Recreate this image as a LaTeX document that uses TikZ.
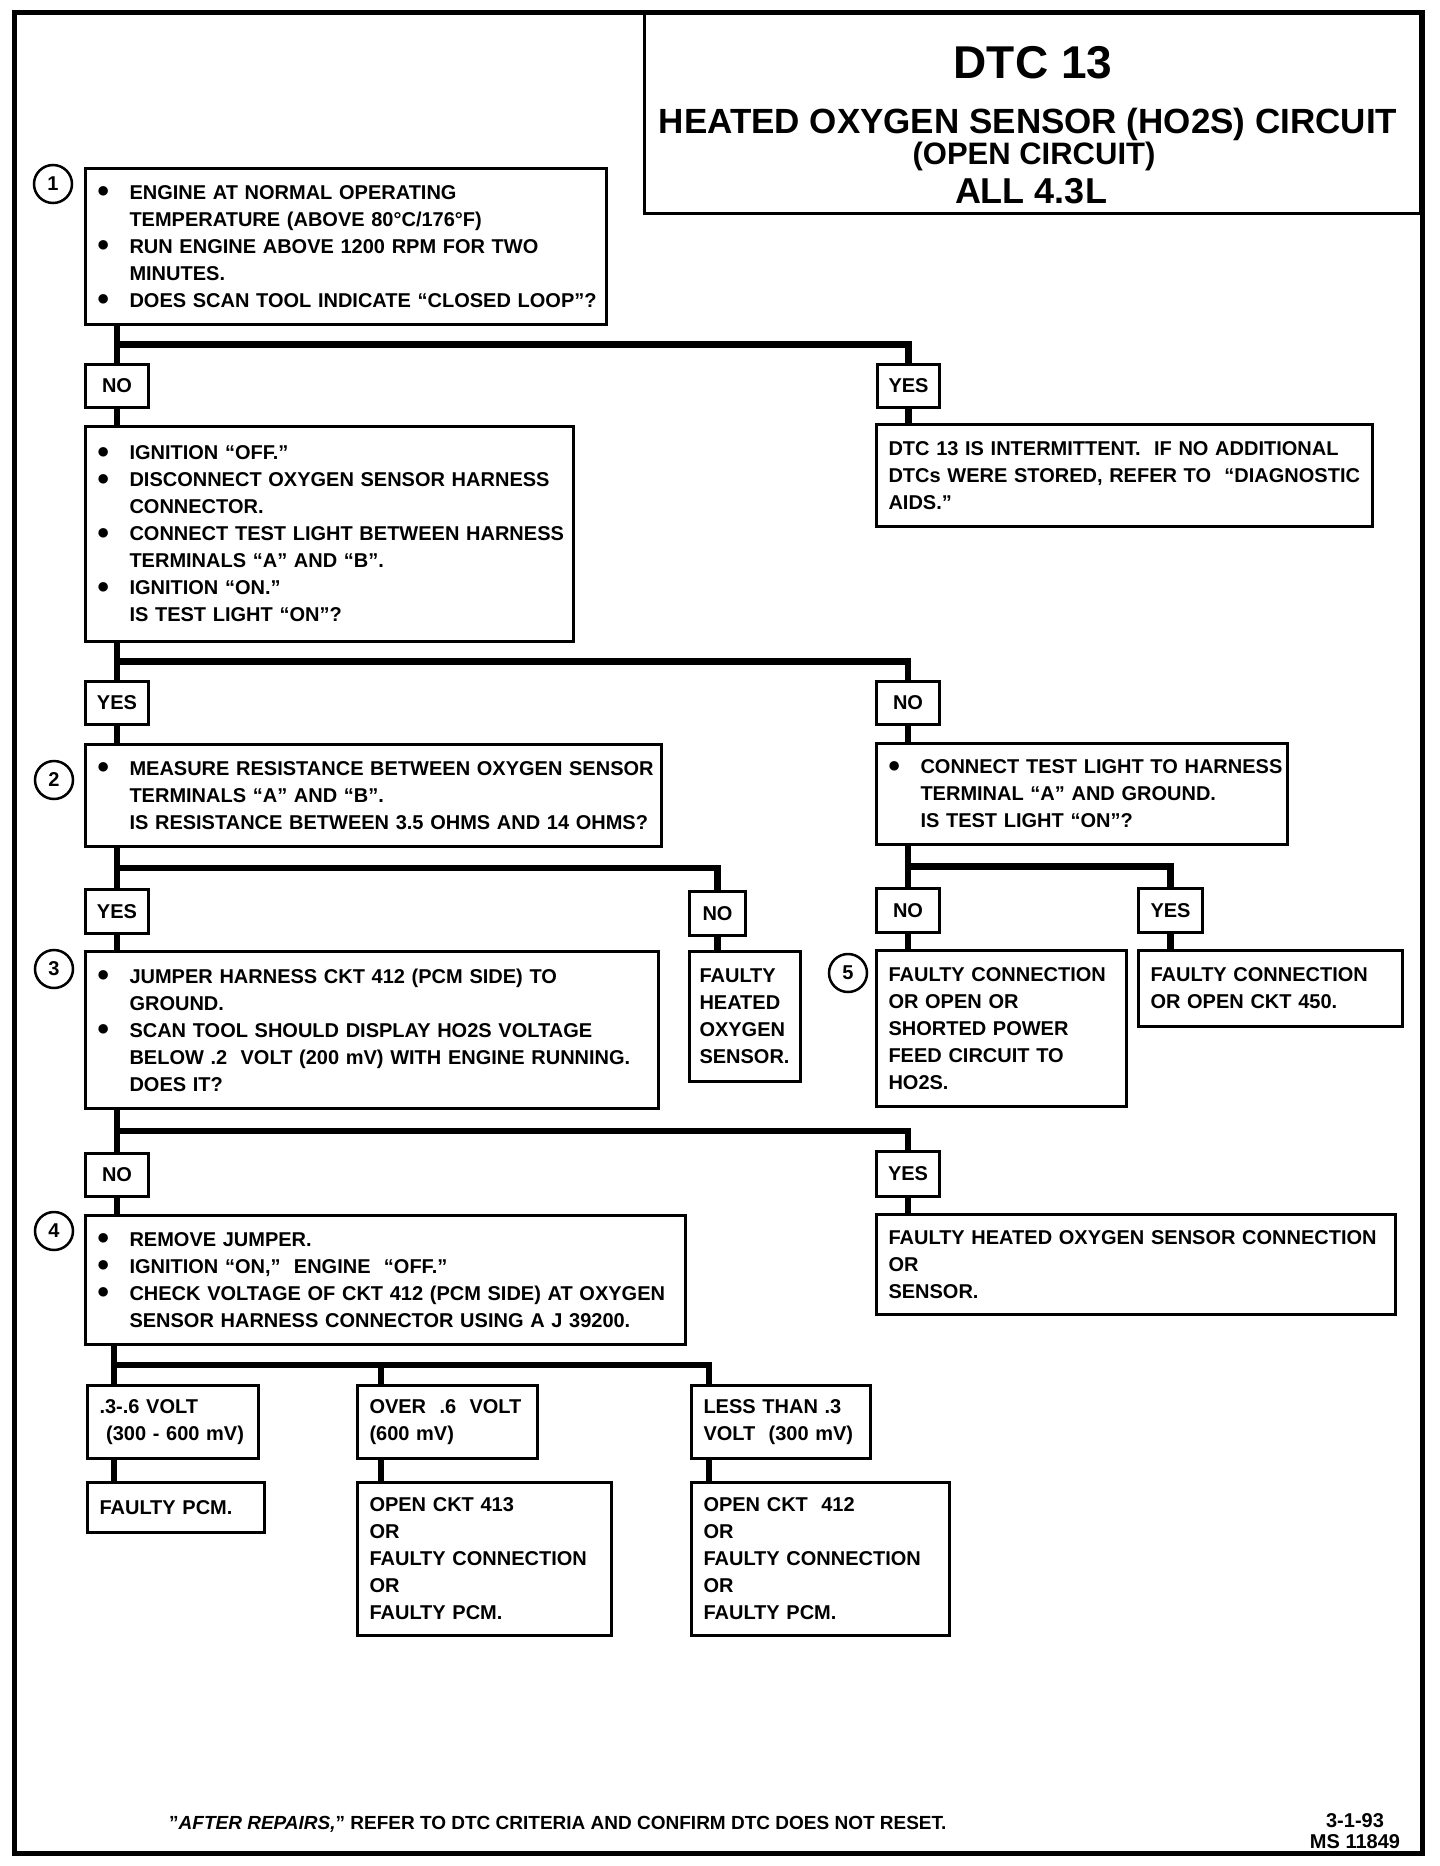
\documentclass[tikz,border=0pt]{standalone}
\usepackage{fontspec}
\setmainfont{Liberation Sans}
\usetikzlibrary{calc,positioning}

\newcommand{\bline}[1]{\makebox[32pt][l]{\hspace*{-1pt}\raisebox{1.5pt}{\fontsize{22}{0}\selectfont ●}}\mbox{#1}}
\newcommand{\iline}[1]{\hspace*{32pt}\mbox{#1}}
\newcommand{\pline}[1]{\mbox{#1}}

\begin{document}
\begin{tikzpicture}[
  x=1pt, y=-1pt,
  font=\bfseries\fontsize{20}{27}\selectfont,
  qbox/.style={draw, line width=3pt, anchor=north west, align=left, inner xsep=12pt, inner ysep=3pt},
  ans/.style={draw, line width=3pt, anchor=north west, inner sep=0pt, minimum width=63pt, minimum height=43pt},
  num/.style={circle, draw, line width=2.5pt, minimum size=38pt, inner sep=0pt},
  link/.style={line width=6.5pt},
  ttl/.style={anchor=base, inner sep=0pt}
]
\useasboundingbox (0,0) rectangle (1440,1866);

% Frame and title
\draw[line width=5pt] (14,12) rectangle (1422,1853);
\node[draw, line width=3pt, anchor=north east, minimum width=776pt, minimum height=200pt] (title) at (1422,12) {};
\node[ttl, font=\bfseries\fontsize{46}{46}\selectfont] (dtc) at (1033,78) {DTC 13};
\node[ttl, font=\bfseries\fontsize{35}{35}\selectfont] (circ) at (1028,133) {HEATED OXYGEN SENSOR (HO2S) CIRCUIT};
\node[ttl, font=\bfseries\fontsize{31}{31}\selectfont] (open) at (1034,164) {(OPEN CIRCUIT)};
\node[ttl, font=\bfseries\fontsize{36}{36}\selectfont] (eng) at (1031,203) {ALL 4.3L};

% Step 1
\node[num] (c1) at (53,184) {1};
\node[qbox, text width=497pt, minimum height=156pt] (q1) at (84,167) {%
  \bline{ENGINE AT NORMAL OPERATING}\\
  \iline{TEMPERATURE (ABOVE\ 80°C/176°F)}\\
  \bline{RUN ENGINE ABOVE 1200 RPM FOR TWO}\\
  \iline{MINUTES.}\\
  \bline{DOES SCAN TOOL INDICATE ``CLOSED LOOP''?}};
\node[ans] (no1) at (84,363) {NO};
\node[ans, minimum width=62pt] (yes1) at (876,363) {YES};

\node[qbox, text width=464pt, minimum height=215pt] (q2) at (84,425) {%
  \bline{IGNITION ``OFF.''}\\
  \bline{DISCONNECT OXYGEN SENSOR HARNESS}\\
  \iline{CONNECTOR.}\\
  \bline{CONNECT TEST LIGHT BETWEEN HARNESS}\\
  \iline{TERMINALS ``A'' AND ``B''.}\\
  \bline{IGNITION ``ON.''}\\
  \iline{IS TEST LIGHT ``ON''?}};
\node[qbox, text width=472pt, minimum height=102pt] (int) at (875,423) {%
  \pline{DTC 13 IS INTERMITTENT.\ \ IF NO ADDITIONAL}\\
  \pline{DTCs WERE STORED, REFER TO\ \ ``DIAGNOSTIC}\\
  \pline{AIDS.''}};
\node[ans] (yes2) at (84,680) {YES};
\node[ans] (no2) at (875,680) {NO};

% Step 2
\node[num] (c2) at (54,780) {2};
\node[qbox, text width=552pt, minimum height=102pt] (q3) at (84,743) {%
  \bline{MEASURE RESISTANCE BETWEEN OXYGEN SENSOR}\\
  \iline{TERMINALS ``A'' AND ``B''.}\\
  \iline{IS RESISTANCE BETWEEN 3.5 OHMS AND 14 OHMS?}};
\node[qbox, text width=387pt, minimum height=101pt] (q6) at (875,742) {%
  \bline{CONNECT TEST LIGHT TO HARNESS}\\
  \iline{TERMINAL ``A'' AND GROUND.}\\
  \iline{IS TEST LIGHT ``ON''?}};
\node[ans, minimum height=44pt] (yes3) at (84,888) {YES};
\node[ans, minimum width=56pt, minimum height=44pt] (no3) at (688,890) {NO};
\node[ans, minimum height=44pt] (no5) at (875,887) {NO};
\node[ans, minimum width=64pt, minimum height=44pt] (yes6) at (1137,887) {YES};

% Step 3 and step 5
\node[num] (c3) at (54,969) {3};
\node[qbox, text width=549pt, minimum height=157pt] (q4) at (84,950) {%
  \bline{JUMPER HARNESS CKT 412 (PCM SIDE) TO}\\
  \iline{GROUND.}\\
  \bline{SCAN TOOL SHOULD DISPLAY HO2S VOLTAGE}\\
  \iline{BELOW .2\ \ VOLT (200 mV) WITH ENGINE RUNNING.}\\
  \iline{DOES IT?}};
\node[qbox, inner xsep=10pt, text width=91pt, minimum height=130pt] (r3) at (688,950) {%
  FAULTY\\ HEATED\\ OXYGEN\\ SENSOR.};
\node[num] (c5) at (848,973) {5};
\node[qbox, text width=226pt, minimum height=156pt] (r5) at (875,949) {%
  \pline{FAULTY CONNECTION}\\
  \pline{OR OPEN OR}\\
  \pline{SHORTED POWER}\\
  \pline{FEED CIRCUIT TO}\\
  \pline{HO2S.}};
\node[qbox, text width=240pt, minimum height=76pt] (r6) at (1137,949) {%
  \pline{FAULTY CONNECTION}\\
  \pline{OR OPEN CKT 450.}};
\node[ans] (no4) at (84,1152) {NO};
\node[ans, minimum height=45pt] (yes4) at (875,1150) {YES};

% Step 4
\node[num] (c4) at (54,1231) {4};
\node[qbox, text width=576pt, minimum height=129pt] (q5) at (84,1214) {%
  \bline{REMOVE JUMPER.}\\
  \bline{IGNITION ``ON,''\ \ ENGINE\ \ ``OFF.''}\\
  \bline{CHECK VOLTAGE OF CKT 412 (PCM SIDE) AT OXYGEN}\\
  \iline{SENSOR HARNESS CONNECTOR USING A J 39200.}};
\node[qbox, text width=495pt, minimum height=100pt] (r4) at (875,1213) {%
  \pline{FAULTY HEATED OXYGEN SENSOR CONNECTION}\\
  \pline{OR}\\
  \pline{SENSOR.}};

% Voltage results
\node[qbox, text width=147pt, minimum height=73pt] (v1) at (86,1384) {%
  \pline{.3-.6 VOLT}\\ \pline{\ (300 - 600 mV)}};
\node[qbox, text width=156pt, minimum height=73pt] (v2) at (356,1384) {%
  \pline{OVER\ \ .6\ \ VOLT}\\ \pline{(600 mV)}};
\node[qbox, text width=155pt, minimum height=73pt] (v3) at (690,1384) {%
  \pline{LESS THAN .3}\\ \pline{VOLT\ \ (300 mV)}};
\node[qbox, text width=153pt, minimum height=50pt] (f1) at (86,1481) {FAULTY PCM.};
\node[qbox, text width=230pt, minimum height=153pt] (f2) at (356,1481) {%
  \pline{OPEN CKT 413}\\ OR\\ \pline{FAULTY CONNECTION}\\ OR\\ \pline{FAULTY PCM.}};
\node[qbox, text width=234pt, minimum height=153pt] (f3) at (690,1481) {%
  \pline{OPEN CKT\ \ 412}\\ OR\\ \pline{FAULTY CONNECTION}\\ OR\\ \pline{FAULTY PCM.}};

% Footer
\node[anchor=base west, inner sep=0pt, font=\bfseries\fontsize{19}{19}\selectfont] (note) at (169,1829)
  {"\textit{AFTER REPAIRS,}" REFER TO DTC CRITERIA AND CONFIRM DTC DOES NOT RESET.};
\node[ttl] (date) at (1355,1827) {3-1-93};
\node[ttl] (msno) at (1355,1848) {MS 11849};

% Connectors
\coordinate (t1) at (no1.north |- q1.south);
\coordinate (j1) at ($(t1)!.5!(no1.north)$);
\draw[link] (t1) -- (no1.north);
\draw[link] (j1) -| (yes1.north);
\draw[link] (no1.south) -- (no1.south |- q2.north);
\draw[link] (yes1.south) -- (yes1.south |- int.north);

\coordinate (t2) at (yes2.north |- q2.south);
\coordinate (j2) at ($(t2)!.5!(yes2.north)$);
\draw[link] (t2) -- (yes2.north);
\draw[link] (j2) -| (no2.north);
\draw[link] (yes2.south) -- (yes2.south |- q3.north);
\draw[link] (no2.south) -- (no2.south |- q6.north);

\coordinate (t3) at (yes3.north |- q3.south);
\coordinate (j3) at ($(t3)!.5!(yes3.north)$);
\draw[link] (t3) -- (yes3.north);
\draw[link] (j3) -| (no3.north);
\draw[link] (yes3.south) -- (yes3.south |- q4.north);
\draw[link] (no3.south) -- (no3.south |- r3.north);

\coordinate (t4) at (no5.north |- q6.south);
\coordinate (j4) at ($(t4)!.5!(no5.north)$);
\draw[link] (t4) -- (no5.north);
\draw[link] (j4) -| (yes6.north);
\draw[link] (no5.south) -- (no5.south |- r5.north);
\draw[link] (yes6.south) -- (yes6.south |- r6.north);

\coordinate (t5) at (no4.north |- q4.south);
\coordinate (j5) at ($(t5)!.5!(no4.north)$);
\draw[link] (t5) -- (no4.north);
\draw[link] (j5) -| (yes4.north);
\draw[link] (no4.south) -- (no4.south |- q5.north);
\draw[link] (yes4.south) -- (yes4.south |- r4.north);

\coordinate (s1) at ([xshift=28pt]v1.north west);
\coordinate (s2) at ([xshift=25pt]v2.north west);
\coordinate (s3) at ([xshift=19pt]v3.north west);
\coordinate (t6) at (s1 |- q5.south);
\coordinate (j6) at ($(t6)!.5!(s1)$);
\draw[link] (t6) -- (s1);
\draw[link] (j6) -| (s3);
\draw[link] (j6 -| s2) -- (s2);
\draw[link] (s1 |- v1.south) -- (s1 |- f1.north);
\draw[link] (s2 |- v2.south) -- (s2 |- f2.north);
\draw[link] (s3 |- v3.south) -- (s3 |- f3.north);

\end{tikzpicture}
\end{document}
